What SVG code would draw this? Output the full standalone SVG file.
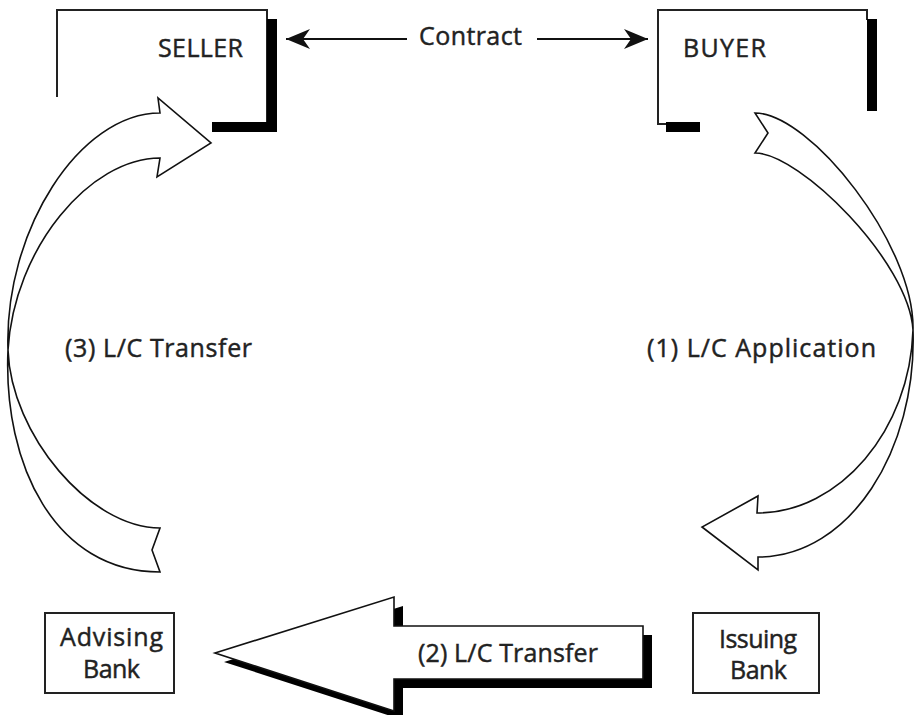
<svg xmlns="http://www.w3.org/2000/svg" width="921" height="715" viewBox="0 0 921 715">
  <style>
    .lbl { font-family: "Open Sans", "Liberation Sans", sans-serif; font-size: 25px; fill: #222; stroke: #222; stroke-width: 0.45; }
    .box { fill: none; stroke: #222; stroke-width: 2; }
    .shadow { fill: #000; }
    .ribbon { fill: #fff; stroke: #111; stroke-width: 1.6; stroke-linejoin: miter; }
    .line { stroke: #111; stroke-width: 2; fill: none; }
  </style>
  <defs>
    <marker id="barb" markerUnits="userSpaceOnUse" markerWidth="30" markerHeight="24" viewBox="-26 -12 30 24" refX="0" refY="0" orient="auto-start-reverse">
      <path d="M0,0 L-24,-10 L-17,0 L-24,10 Z" fill="#111"/>
    </marker>
  </defs>

  <rect width="921" height="715" fill="#fff"/>

  <!-- Seller: open frame with heavy right/bottom shadow -->
  <g id="seller">
    <path class="box" d="M57,97 V10 H267 V122"/>
    <rect class="shadow" x="267" y="19" width="10" height="113"/>
    <rect class="shadow" x="212" y="122" width="65" height="10"/>
    <text class="lbl" x="158" y="57" textLength="85" font-size="26">SELLER</text>
  </g>

  <!-- Buyer -->
  <g id="buyer">
    <path class="box" d="M668,124 H658 V10 H867 V20"/>
    <rect class="shadow" x="867" y="19" width="10" height="92"/>
    <rect class="shadow" x="666" y="122" width="34" height="10"/>
    <text class="lbl" x="683" y="57" textLength="83" font-size="26">BUYER</text>
  </g>

  <!-- Advising bank -->
  <g id="advising-bank">
    <rect class="box" x="45" y="613" width="129" height="80"/>
    <text class="lbl" x="60" y="646" textLength="103" font-size="26">Advising</text>
    <text class="lbl" x="83" y="678" textLength="57" font-size="26">Bank</text>
  </g>

  <!-- Issuing bank -->
  <g id="issuing-bank">
    <rect class="box" x="693" y="613" width="126" height="80"/>
    <text class="lbl" x="719" y="648" textLength="78" font-size="26">Issuing</text>
    <text class="lbl" x="730" y="679" textLength="57" font-size="26">Bank</text>
  </g>

  <g id="connectors">
    <!-- Contract: double-headed arrow between seller and buyer -->
    <g id="contract">
      <line class="line" x1="286" y1="39" x2="407" y2="39" marker-start="url(#barb)"/>
      <line class="line" x1="537" y1="39" x2="648" y2="39" marker-end="url(#barb)"/>
      <text class="lbl" x="419" y="45" textLength="103" font-size="26">Contract</text>
    </g>

    <!-- (1) Buyer to issuing bank: twisted curved ribbon arrow on the right -->
    <g id="step1">
      <path class="ribbon" d="M755,113 C810,113 915,245 913,330 C910,430 840,513 757,513 L758,496 L702,527 L758,570 L758,557 C850,557 917,450 913,330 C909,262 800,153 755,153 L768,133 Z"/>
      <text class="lbl" x="647" y="357" textLength="229">(1) L/C Application</text>
    </g>

    <!-- (2) Issuing bank to advising bank: block arrow with drop shadow -->
    <g id="step2">
      <path class="shadow" d="M224,662 L403,606 L403,635 L652,635 L652,688 L403,688 L403,720 Z"/>
      <path class="ribbon" d="M215,653 L394,597 L394,626 L643,626 L643,679 L394,679 L394,711 Z"/>
      <text class="lbl" x="418" y="662" textLength="180">(2) L/C Transfer</text>
    </g>

    <!-- (3) Advising bank to seller: twisted curved ribbon arrow on the left -->
    <g id="step3">
      <path class="ribbon" d="M160,113 C80,113 4,230 8,350 C11,435 90,528 160,528 L152,550 L160,572 C55,572 3,465 8,350 C14,248 90,158 160,158 L157,177 L211,143 L158,98 Z"/>
      <text class="lbl" x="65" y="357" textLength="187">(3) L/C Transfer</text>
    </g>
  </g>
</svg>
